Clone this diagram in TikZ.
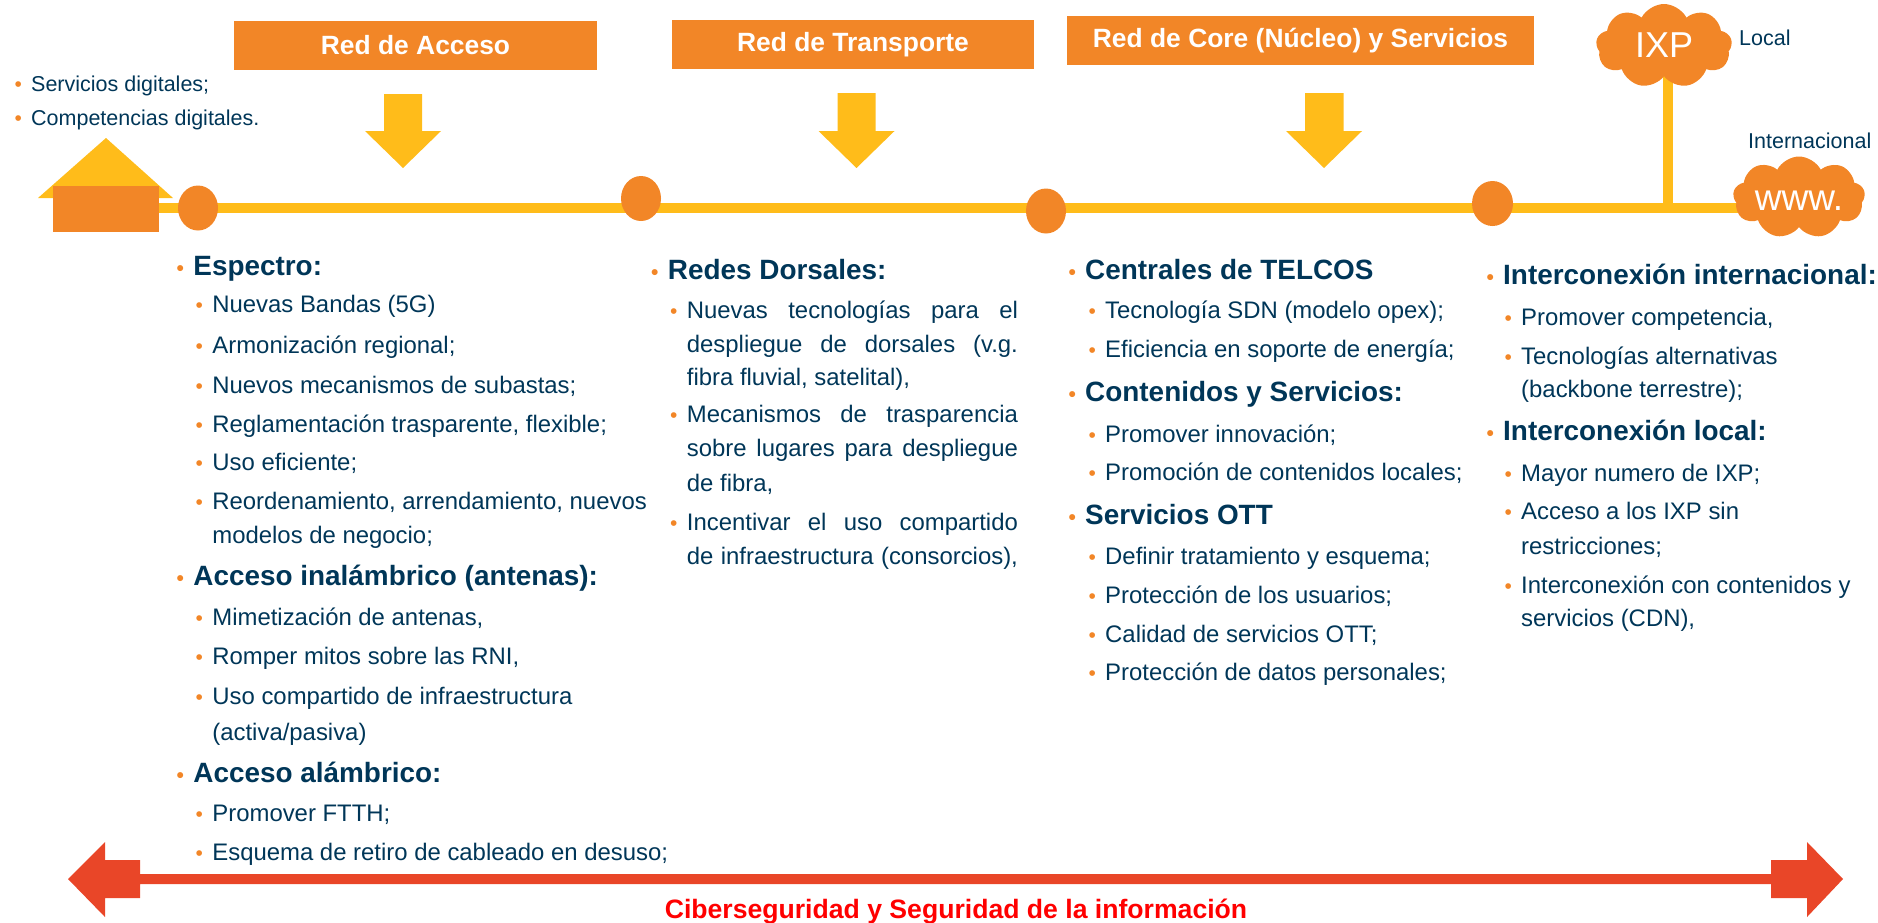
\documentclass[tikz,border=0pt]{standalone}
\usepackage{fontspec}
\setmainfont{Liberation Sans}
\usetikzlibrary{shapes.symbols,shapes.geometric,backgrounds}
\definecolor{oran}{HTML}{F28627}
\definecolor{yell}{HTML}{FFBC1A}
\definecolor{navy}{HTML}{003658}
\definecolor{redarrow}{HTML}{E94628}
\newcommand{\bu}[1]{\hbox to 16.7pt{\textcolor{oran}{\fontsize{21}{21}\selectfont •}\hfil}#1}
\newcommand{\nobu}[1]{\hbox to 16.7pt{\hfil}#1}
\newcommand{\jus}[1]{\makebox[331pt][s]{#1}}
\tikzset{
  hdr/.style={fill=oran,text=white,font=\fontsize{26.4}{28}\selectfont\bfseries,inner sep=0pt,anchor=center},
  head/.style={anchor=mid west,inner sep=0pt,yshift=-7pt,text=navy,font=\fontsize{27.9}{30}\selectfont\bfseries},
  sub/.style={anchor=mid west,inner sep=0pt,yshift=-6pt,text=navy,font=\fontsize{23.9}{26}\selectfont},
  tiny/.style={anchor=mid west,inner sep=0pt,yshift=-5.5pt,text=navy,font=\fontsize{21.5}{24}\selectfont},
  dot/.style={ellipse,fill=oran,inner sep=0pt},
  puff/.style={cloud,cloud puffs=9,cloud puff arc=125,aspect=1.6,fill=oran,text=white,inner sep=0pt},
  yline/.style={draw=yell,line width=10pt},
  yarrow/.style={fill=yell},
}
\begin{document}
\begin{tikzpicture}[x=1pt,y=-1pt]
\useasboundingbox (0,0) rectangle (1878,922);
% top boxes
\node[hdr,minimum width=363pt,minimum height=49pt] (box1) at (415.5,45.5) {Red de Acceso};
\node[hdr,minimum width=362pt,minimum height=49pt] (box2) at (853,44.5) {Red de Transporte};
\node[hdr,minimum width=467pt,minimum height=49pt] (box3) at (1300.5,40.5) {Red de Core (Núcleo) y Servicios};
% block arrows
\fill[yarrow] (384,94) -- (422,94) -- (422,131) -- (441,131) -- (403,168) -- (365,131) -- (384,131) -- cycle;
\fill[yarrow] (837.5,93) -- (875.5,93) -- (875.5,131) -- (894.5,131) -- (856.5,168) -- (818.5,131) -- (837.5,131) -- cycle;
\fill[yarrow] (1305,93) -- (1343.5,93) -- (1343.5,131) -- (1362,131) -- (1324,168) -- (1286,131) -- (1305,131) -- cycle;
% house
\fill[yarrow] (106,138) -- (173,198) -- (38,198) -- cycle;
\node[fill=oran,minimum width=106pt,minimum height=46pt,inner sep=0pt] (body) at (106,209) {};
% dots
\node[dot,minimum width=40pt,minimum height=45pt] (d1) at (198,208) {};
\node[dot,minimum width=40pt,minimum height=45pt] (d2) at (641,198.5) {};
\node[dot,minimum width=40pt,minimum height=45pt] (d3) at (1046,211) {};
\node[dot,minimum width=41pt,minimum height=45pt] (d4) at (1492.5,203.5) {};
% clouds
\node[puff,minimum width=136pt,minimum height=84pt,font=\fontsize{36}{36}\selectfont] (ixp) at (1664,46) {\smash{\makebox[0pt]{\raisebox{-11pt}{IXP}}}};
\node[puff,minimum width=132pt,minimum height=82pt,font=\fontsize{37}{37}\selectfont] (www) at (1799,197.5) {\smash{\makebox[0pt]{\raisebox{-13pt}{www.}}}};
\coordinate (lineL) at (159,208);
\coordinate (lineR) at (1740,208);
\coordinate (junction) at (1668,208);
\begin{scope}[on background layer]
\draw[yline] (lineL) -- (lineR);
\draw[yline] (junction) -- (junction |- ixp.center);
\end{scope}
\node[tiny] (lbl1) at (1739,37) {Local};
\node[tiny] (lbl2) at (1748,140) {Internacional};
% left list
\node[tiny] (s1) at (14.3,83) {\bu{Servicios digitales;}};
\node[tiny] (s2) at (14.3,117) {\bu{Competencias digitales.}};
% column 1
\node[head] (a1) at (176.5,266) {\bu{Espectro:}};
\node[sub] (a2) at (195.5,304) {\bu{Nuevas Bandas (5G)}};
\node[sub] (a3) at (195.5,345) {\bu{Armonización regional;}};
\node[sub] (a4) at (195.5,384.5) {\bu{Nuevos mecanismos de subastas;}};
\node[sub] (a5) at (195.5,424) {\bu{Reglamentación trasparente, flexible;}};
\node[sub] (a6) at (195.5,462) {\bu{Uso eficiente;}};
\node[sub] (a7) at (195.5,501) {\bu{Reordenamiento, arrendamiento, nuevos}};
\node[sub] (a8) at (195.5,535) {\nobu{modelos de negocio;}};
\node[head] (a9) at (176.5,576) {\bu{Acceso inalámbrico (antenas):}};
\node[sub] (a10) at (195.5,617) {\bu{Mimetización de antenas,}};
\node[sub] (a11) at (195.5,656) {\bu{Romper mitos sobre las RNI,}};
\node[sub] (a12) at (195.5,696) {\bu{Uso compartido de infraestructura}};
\node[sub] (a13) at (195.5,732) {\nobu{(activa/pasiva)}};
\node[head] (a14) at (176.5,772.5) {\bu{Acceso alámbrico:}};
\node[sub] (a15) at (195.5,813) {\bu{Promover FTTH;}};
\node[sub] (a16) at (195.5,852) {\bu{Esquema de retiro de cableado en desuso;}};
% column 2
\node[head] (b1) at (651,269.5) {\bu{Redes Dorsales:}};
\node[sub] (b2) at (670,310) {\bu{\jus{Nuevas tecnologías para el}}};
\node[sub] (b3) at (670,344) {\nobu{\jus{despliegue de dorsales (v.g.}}};
\node[sub] (b4) at (670,377) {\nobu{fibra fluvial, satelital),}};
\node[sub] (b5) at (670,414) {\bu{\jus{Mecanismos de trasparencia}}};
\node[sub] (b6) at (670,448) {\nobu{\jus{sobre lugares para despliegue}}};
\node[sub] (b7) at (670,483) {\nobu{de fibra,}};
\node[sub] (b8) at (670,522) {\bu{\jus{Incentivar el uso compartido}}};
\node[sub] (b9) at (670,556) {\nobu{\jus{de infraestructura (consorcios),}}};
% column 3
\node[head] (c1) at (1068.3,269.5) {\bu{Centrales de TELCOS}};
\node[sub] (c2) at (1088.3,310) {\bu{Tecnología SDN (modelo opex);}};
\node[sub] (c3) at (1088.3,348.5) {\bu{Eficiencia en soporte de energía;}};
\node[head] (c4) at (1068.3,392) {\bu{Contenidos y Servicios:}};
\node[sub] (c5) at (1088.3,433.5) {\bu{Promover innovación;}};
\node[sub] (c6) at (1088.3,472) {\bu{Promoción de contenidos locales;}};
\node[head] (c7) at (1068.3,515) {\bu{Servicios OTT}};
\node[sub] (c8) at (1088.3,556) {\bu{Definir tratamiento y esquema;}};
\node[sub] (c9) at (1088.3,595) {\bu{Protección de los usuarios;}};
\node[sub] (c10) at (1088.3,633.5) {\bu{Calidad de servicios OTT;}};
\node[sub] (c11) at (1088.3,672) {\bu{Protección de datos personales;}};
% column 4
\node[head] (e1) at (1486.3,275) {\bu{Interconexión internacional:}};
\node[sub] (e2) at (1504.3,317) {\bu{Promover competencia,}};
\node[sub] (e3) at (1504.3,356) {\bu{Tecnologías alternativas}};
\node[sub] (e4) at (1504.3,389) {\nobu{(backbone terrestre);}};
\node[head] (e5) at (1486.3,431) {\bu{Interconexión local:}};
\node[sub] (e6) at (1504.3,473) {\bu{Mayor numero de IXP;}};
\node[sub] (e7) at (1504.3,511) {\bu{Acceso a los IXP sin}};
\node[sub] (e8) at (1504.3,546) {\nobu{restricciones;}};
\node[sub] (e9) at (1504.3,584.5) {\bu{Interconexión con contenidos y}};
\node[sub] (e10) at (1504.3,618) {\nobu{servicios (CDN),}};
% bottom arrow
\fill[redarrow] (68,879) -- (105,842) -- (105,860) -- (140,860) -- (140,874) -- (1771,874) -- (1771,860) -- (1807,860) -- (1807,842) -- (1843,879) -- (1807,917) -- (1807,898) -- (1771,898) -- (1771,884) -- (140,884) -- (140,898) -- (105,898) -- (105,917) -- cycle;
\node[inner sep=0pt,text=red,font=\fontsize{26.6}{28}\selectfont\bfseries] (ciber) at (956,912) {Ciberseguridad y Seguridad de la información};
\end{tikzpicture}
\end{document}
